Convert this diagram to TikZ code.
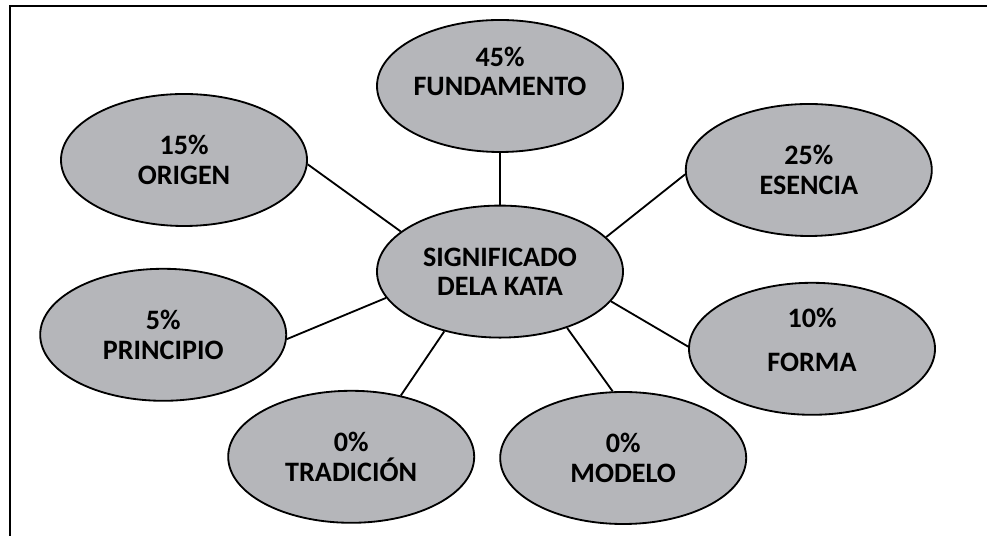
\documentclass[tikz,border=0pt]{standalone}
\usepackage{fontspec}
\setmainfont{Carlito}
\usetikzlibrary{shapes.geometric}
\definecolor{ovalgray}{RGB}{181,182,186}
\tikzset{oval/.style={ellipse, draw, line width=1.3pt, fill=ovalgray, minimum width=6.15cm, minimum height=3.3cm, inner sep=0pt, align=center, font=\bfseries\fontsize{20}{21}\selectfont}}

\begin{document}
\begin{tikzpicture}
        \useasboundingbox (0,0) rectangle (24.675,13.4);
        \draw [line width=1.7pt] (0.25,-0.5) -- (0.25,13.25) -- (25,13.25);

        \node [oval] (sig) at (12.5,6.61) {SIGNIFICADO\\DELA KATA};
        \node [oval] (fund) at (12.5,11.25) {45\%\\FUNDAMENTO\\\mbox{}};
        \node [oval] (orig) at (4.6,9.4) {15\%\\ORIGEN};
        \node [oval] (esen) at (20.22,9.15) {25\%\\ESENCIA};
        \node [oval] (prin) at (4.08,5.03) {5\%\\PRINCIPIO};
        \node [oval] (form) at (20.3,4.68) {10\%\\[0.35cm]FORMA\\[-0.3cm]\mbox{}};
        \node [oval] (trad) at (8.78,1.98) {0\%\\TRADICIÓN};
        \node [oval] (mode) at (15.58,1.95) {0\%\\MODELO};

        \draw [line width=1.3pt] (sig.90) -- (fund.270);
        \draw [line width=1.3pt] (sig.158) -- (orig.-2);
        \draw [line width=1.3pt] (sig.18) -- (esen.182);
        \draw [line width=1.3pt] (sig.193) -- (prin.-2);
        \draw [line width=1.3pt] (sig.345) -- (form.179);
        \draw [line width=1.3pt] (sig.227) -- (trad.51);
        \draw [line width=1.3pt] (sig.320) -- (mode.99);
      \end{tikzpicture}
\end{document}
